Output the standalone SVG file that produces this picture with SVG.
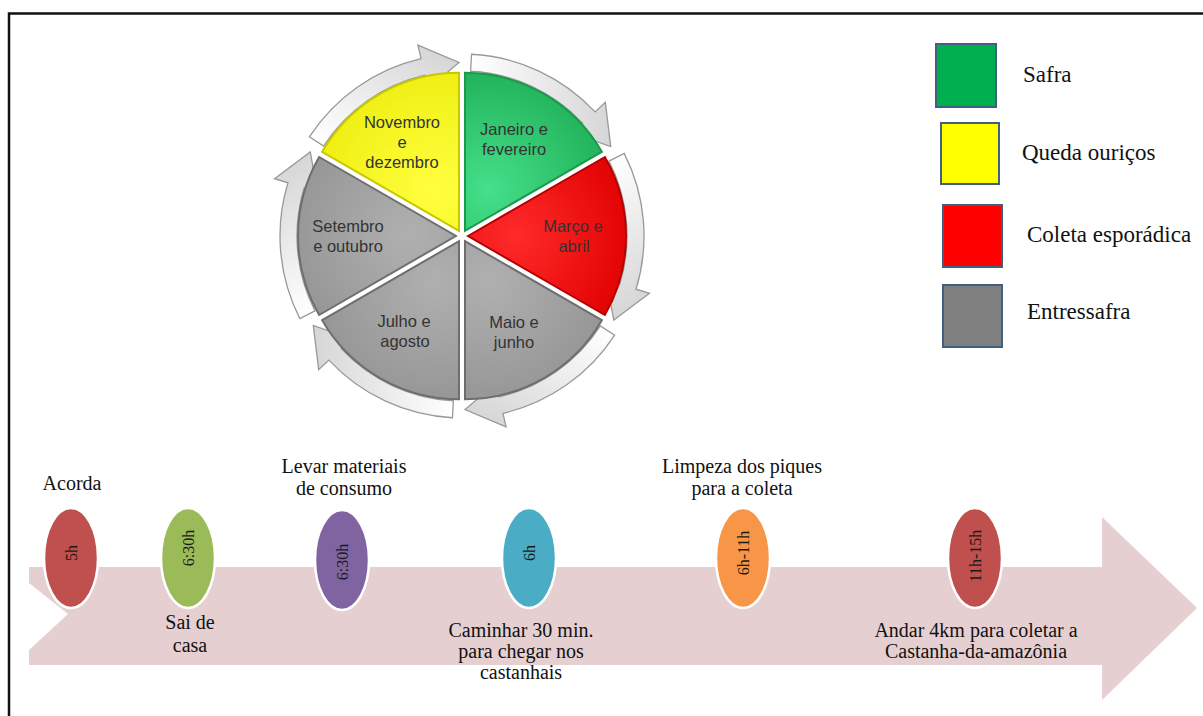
<svg xmlns="http://www.w3.org/2000/svg" width="1203" height="716" viewBox="0 0 1203 716">
<style>
.wt{font-family:"Liberation Sans",Arial,sans-serif;font-size:16.5px;fill:#333;text-anchor:middle}
.lg{font-family:"Liberation Serif","Times New Roman",serif;font-size:23px;fill:#111}
.tl{font-family:"Liberation Serif","Times New Roman",serif;font-size:20px;fill:#111;text-anchor:middle}
.et{font-family:"Liberation Serif","Times New Roman",serif;font-size:16px;fill:#1a1a1a;text-anchor:middle;dominant-baseline:central}
.ring{fill:url(#ringg);stroke:#999;stroke-width:1.3}
.ell{stroke:#fff;stroke-width:2.5}
.sw{stroke:#41607f;stroke-width:2}
</style>
<defs>
<linearGradient id="ringg" x1="0" y1="0" x2="0" y2="1">
<stop offset="0" stop-color="#ffffff"/>
<stop offset="1" stop-color="#d6d6d6"/>
</linearGradient>
<radialGradient id="gG" cx="0.3" cy="0.5" r="0.8"><stop offset="0" stop-color="#45e08a"/><stop offset="1" stop-color="#20b058"/></radialGradient>
<radialGradient id="gR" cx="0.3" cy="0.5" r="0.8"><stop offset="0" stop-color="#ff2a2a"/><stop offset="1" stop-color="#e00000"/></radialGradient>
<radialGradient id="gY" cx="0.3" cy="0.5" r="0.8"><stop offset="0" stop-color="#ffff40"/><stop offset="1" stop-color="#eeee10"/></radialGradient>
<radialGradient id="gA" cx="0.3" cy="0.5" r="0.8"><stop offset="0" stop-color="#b0b0b0"/><stop offset="1" stop-color="#959595"/></radialGradient>
<path id="wedge" d="M6,0 L142.83,-79 A158,158 0 0 1 142.83,79 Z"/>
<path id="arr" d="M181.75,9.53 A182,182 0 0 1 124.12,133.11 L133.67,143.34 L89.36,148.72 L102.98,110.43 L112.53,120.67 A165,165 0 0 0 164.77,8.64 Z"/>
</defs>
<rect width="1203" height="716" fill="#fff"/>
<path d="M9,716 V13.5 H1203" fill="none" stroke="#111" stroke-width="2.5"/>

<g id="cycle">
<g id="ring-arrows" transform="translate(462,236)">
<use href="#arr" class="ring" transform="rotate(-90)"/>
<use href="#arr" class="ring" transform="rotate(-30)"/>
<use href="#arr" class="ring" transform="rotate(30)"/>
<use href="#arr" class="ring" transform="rotate(90)"/>
<use href="#arr" class="ring" transform="rotate(150)"/>
<use href="#arr" class="ring" transform="rotate(210)"/>
</g>
<g id="w-jan" transform="translate(462,236) rotate(-60)"><use href="#wedge" fill="url(#gG)" stroke="#1a9a4c" stroke-width="2"/></g>
<g id="w-mar" transform="translate(462,236)"><use href="#wedge" fill="url(#gR)" stroke="#b80000" stroke-width="2"/></g>
<g id="w-mai" transform="translate(462,236) rotate(60)"><use href="#wedge" fill="url(#gA)" stroke="#6e6e6e" stroke-width="2"/></g>
<g id="w-jul" transform="translate(462,236) rotate(120)"><use href="#wedge" fill="url(#gA)" stroke="#6e6e6e" stroke-width="2"/></g>
<g id="w-set" transform="translate(462,236) rotate(180)"><use href="#wedge" fill="url(#gA)" stroke="#6e6e6e" stroke-width="2"/></g>
<g id="w-nov" transform="translate(462,236) rotate(240)"><use href="#wedge" fill="url(#gY)" stroke="#c8c800" stroke-width="2"/></g>
<text class="wt" x="402" y="128">Novembro</text>
<text class="wt" x="402" y="148">e</text>
<text class="wt" x="402" y="168">dezembro</text>
<text class="wt" x="514" y="135">Janeiro e</text>
<text class="wt" x="514" y="155">fevereiro</text>
<text class="wt" x="573" y="232">Março e</text>
<text class="wt" x="574" y="252">abril</text>
<text class="wt" x="514" y="328">Maio e</text>
<text class="wt" x="514" y="348">junho</text>
<text class="wt" x="404" y="327">Julho e</text>
<text class="wt" x="405" y="347">agosto</text>
<text class="wt" x="348" y="232">Setembro</text>
<text class="wt" x="348" y="252">e outubro</text>
</g>

<g id="legend">
<g id="lg-safra"><rect class="sw" x="936" y="44" width="60" height="63" fill="#00b050"/><text class="lg" x="1023" y="82">Safra</text></g>
<g id="lg-queda"><rect class="sw" x="941" y="123" width="58" height="61" fill="#ffff00"/><text class="lg" x="1022" y="160">Queda ouriços</text></g>
<g id="lg-coleta"><rect class="sw" x="943" y="205" width="59" height="62" fill="#ff0000"/><text class="lg" x="1027" y="242">Coleta esporádica</text></g>
<g id="lg-entre"><rect class="sw" x="943" y="285" width="59" height="62" fill="#808080"/><text class="lg" x="1027" y="319">Entressafra</text></g>
</g>

<g id="timeline-arrow">
<polygon points="29,567 1102,567 1102,517 1197,608 1102,700 1102,665 29,665 29,650 68,614 29,583" fill="#e6cfd0"/>
</g>

<g id="ev-acorda">
<text class="tl" x="72" y="490">Acorda</text>
<ellipse class="ell" cx="71" cy="558" rx="27" ry="50" fill="#c0504d"/>
<text class="et" transform="translate(71,553) rotate(-90)">5h</text>
</g>
<g id="ev-sai">
<ellipse class="ell" cx="188" cy="558" rx="27" ry="50" fill="#9bbb59"/>
<text class="et" transform="translate(188,548) rotate(-90)">6:30h</text>
<text class="tl" x="190" y="629">Sai de</text>
<text class="tl" x="190" y="652">casa</text>
</g>
<g id="ev-levar">
<text class="tl" x="344" y="473">Levar materiais</text>
<text class="tl" x="344" y="495">de consumo</text>
<ellipse class="ell" cx="342" cy="560" rx="27" ry="50" fill="#8064a2"/>
<text class="et" transform="translate(342,562) rotate(-90)">6:30h</text>
</g>
<g id="ev-caminhar">
<ellipse class="ell" cx="529" cy="558" rx="27" ry="50" fill="#4bacc6"/>
<text class="et" transform="translate(529,553) rotate(-90)">6h</text>
<text class="tl" x="521" y="637">Caminhar 30 min.</text>
<text class="tl" x="521" y="658">para chegar nos</text>
<text class="tl" x="521" y="679">castanhais</text>
</g>
<g id="ev-limpeza">
<text class="tl" x="742" y="473">Limpeza dos piques</text>
<text class="tl" x="742" y="495">para a coleta</text>
<ellipse class="ell" cx="743" cy="558" rx="27" ry="50" fill="#f79646"/>
<text class="et" transform="translate(743,553) rotate(-90)">6h-11h</text>
</g>
<g id="ev-andar">
<ellipse class="ell" cx="975" cy="558" rx="27" ry="50" fill="#c0504d"/>
<text class="et" transform="translate(975,556) rotate(-90)">11h-15h</text>
<text class="tl" x="976" y="637">Andar 4km para coletar a</text>
<text class="tl" x="976" y="658">Castanha-da-amazônia</text>
</g>
</svg>
